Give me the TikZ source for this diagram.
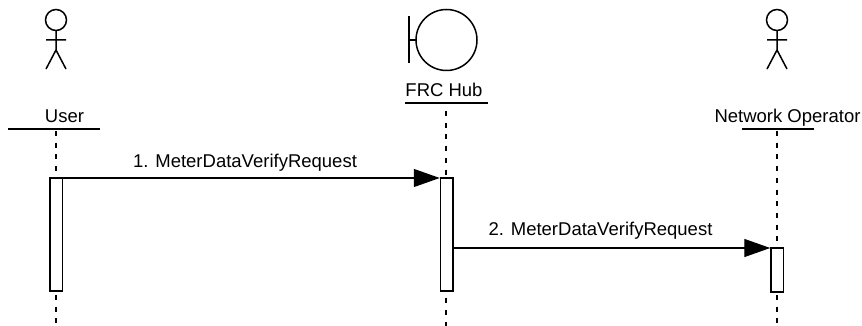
\documentclass[tikz,border=0pt]{standalone}
\usepackage{fontspec}
\setmainfont{Liberation Sans}
\usetikzlibrary{arrows.meta}
\tikzset{
  lbl/.style={inner sep=0pt,font=\fontsize{18.5}{22}\selectfont,text=black,anchor=base},
  under/.style={line width=1.5pt},
  life/.style={line width=2pt,dash pattern=on 5pt off 6.7pt},
  stick/.style={line width=1.5pt},
  act/.style={draw,fill=white,line width=1.5pt,minimum width=12.5pt,inner sep=0pt,anchor=north,outer sep=0pt},
  msg/.style={line width=1.4pt,-{Triangle[length=26pt,width=18pt]},shorten >=0.5pt}
}
\newcommand{\stickman}[1]{%
  \draw[stick] (#1,20) circle (10.5);
  \draw[stick] (#1,31) -- (#1,50) (#1-10,40) -- (#1+10,40) (#1-10,69) -- (#1,50) -- (#1+10,69);
}
\begin{document}
\begin{tikzpicture}[x=1pt,y=-1pt]
\useasboundingbox (0,0) rectangle (862,326);
\stickman{56}
\stickman{777}
\draw[stick] (446.5,40) circle (30.5);
\draw[stick] (409,16) -- (409,63) (409,40) -- (416,40);
\node[lbl] (tu) at (64.5,123) {User};
\node[lbl] (th) at (444,97) {FRC Hub};
\node[lbl] (tn) at (787.5,123) {Network Operator};
\coordinate (u1) at (8,129); \coordinate (u2) at (100,129);
\coordinate (h1) at (405,103); \coordinate (h2) at (488,103);
\coordinate (n1) at (742,129); \coordinate (n2) at (814,129);
\draw[under] (u1) -- (u2) (h1) -- (h2) (n1) -- (n2);
\coordinate (ul) at (56,131); \coordinate (ue) at (56,326);
\coordinate (hl) at (446,111); \coordinate (he) at (446,326);
\coordinate (nl) at (777,131); \coordinate (ne) at (777,326);
\draw[life] (ul) -- (ue);
\draw[life] (hl) -- (he);
\draw[life] (nl) -- (ne);
\node[act,minimum height=113pt] (au) at (56,178) {};
\node[act,minimum height=113pt] (ah) at (446.5,178) {};
\node[act,minimum height=44pt] (an) at (777,248) {};
\draw[msg] (au.north east) -- (ah.north west);
\draw[msg] (ah.east |- an.north) -- (an.north west);
\node[lbl] (m1) at (245,167.5) {1. MeterDataVerifyRequest};
\node[lbl] (m2) at (600.5,235.5) {2. MeterDataVerifyRequest};
\end{tikzpicture}
\end{document}
